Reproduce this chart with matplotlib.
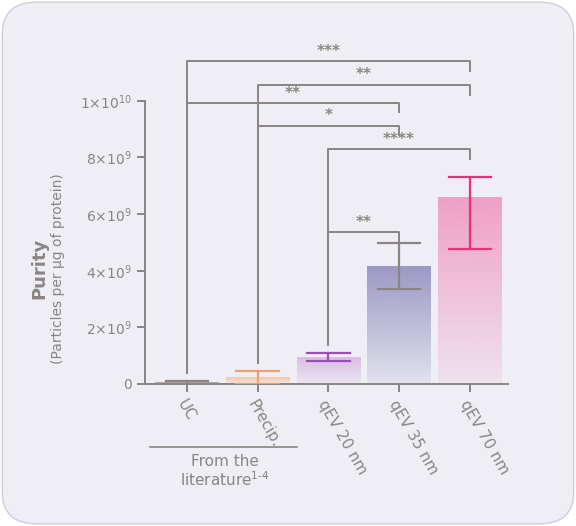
import matplotlib.pyplot as plt
import numpy as np
from matplotlib.patches import FancyBboxPatch
from matplotlib.colors import to_rgb

# data
labels = ["UC", "Precip.", "qEV 20 nm", "qEV 35 nm", "qEV 70 nm"]
means = [0.05e9, 0.22e9, 0.95e9, 4.15e9, 6.6e9]
err_lo = [0.0, 0.0, 0.80e9, 3.35e9, 4.75e9]
err_hi = [0.10e9, 0.45e9, 1.08e9, 4.98e9, 7.30e9]
colors = ["#8a8582", "#f0a070", "#c49ad0", "#2c2f7e", "#e8317a"]
err_colors = ["#8a8582", "#f0a070", "#9b4fb5", "#8a8582", "#e8317a"]
bar_tops = ["#9a9592", "#f6c7a6", "#d9bde3", "#9c98c4", "#f0a0c4"]
# comparisons: (left idx, right idx, height, left leg end, right leg end, stars)
comps = [(0, 4, 11.4e9, 0.39e9, 11.05e9, "***"),
         (1, 4, 10.57e9, 0.74e9, 10.2e9, "**"),
         (0, 3, 9.93e9, 0.39e9, 9.6e9, "**"),
         (1, 3, 9.12e9, 0.74e9, 8.8e9, "*"),
         (2, 4, 8.3e9, 1.38e9, 7.95e9, "****"),
         (2, 3, 5.37e9, 1.38e9, 5.05e9, "**")]
yticks = [0, 2e9, 4e9, 6e9, 8e9, 1e10]
ytick_labels = ["0", r"2×10$^9$", r"4×10$^9$", r"6×10$^9$", r"8×10$^9$", r"1×10$^{10}$"]

grey = "#8a8582"
fig = plt.figure(figsize=(5.76, 5.26), dpi=100)
fig.patch.set_facecolor("white")
box = FancyBboxPatch((0.004, 0.004), 0.992, 0.992, boxstyle="round,pad=0,rounding_size=0.06",
                     transform=fig.transFigure, facecolor="#eeeef4", edgecolor="#cfcfd8", lw=1, zorder=-10)
fig.patches.append(box)
ax = fig.add_axes([0.252, 0.27, 0.63, 0.646])
ax.set_facecolor("none")

w = 0.9
for i, m in enumerate(means):
    r, g, b = to_rgb(bar_tops[i])
    grad = np.zeros((100, 1, 4))
    grad[..., 0], grad[..., 1], grad[..., 2] = r, g, b
    grad[:, 0, 3] = np.linspace(1, 0.15, 100)
    ax.imshow(grad, extent=[i - w / 2, i + w / 2, 0, m], aspect="auto", zorder=1)
    ax.plot([i, i], [err_lo[i], err_hi[i]], color=err_colors[i], lw=1.6, zorder=3)
    for v in (err_lo[i], err_hi[i]):
        ax.plot([i - 0.3, i + 0.3], [v, v], color=err_colors[i], lw=1.6, zorder=3)

for a, b, h, la, lb, s in comps:
    ax.plot([a, a, b, b], [la, h, h, lb], color=grey, lw=1.4, zorder=2)
    ax.text((a + b) / 2, h + 0.08e9, s, ha="center", va="bottom", color=grey, fontsize=11, fontweight="bold")

ax.set_xlim(-0.59, 4.54)
ax.set_ylim(0, 12e9)
for sp in ("top", "right"):
    ax.spines[sp].set_visible(False)
ax.spines["left"].set_bounds(0, 1e10)
for sp in ("left", "bottom"):
    ax.spines[sp].set_color(grey)
    ax.spines[sp].set_linewidth(1.4)
ax.set_yticks(yticks)
ax.set_yticklabels(ytick_labels, color=grey, fontsize=10)
ax.set_xticks(range(len(labels)))
ax.set_xticklabels(labels, rotation=-60, ha="left", va="top", rotation_mode="anchor", fontsize=11)
for t, c in zip(ax.get_xticklabels(), colors):
    t.set_color(c)
ax.tick_params(colors=grey, width=1.4, length=6)

fig.text(0.068, 0.49, "Purity", rotation=90, ha="center", va="center", color=grey, fontsize=13, fontweight="bold")
fig.text(0.1, 0.49, "(Particles per µg of protein)", rotation=90, ha="center", va="center", color=grey, fontsize=10)
fig.add_artist(plt.Line2D([0.26, 0.516], [0.15, 0.15], color=grey, lw=1.2, transform=fig.transFigure))
fig.text(0.39, 0.123, "From the", ha="center", va="center", color=grey, fontsize=11)
fig.text(0.39, 0.088, r"literature$^{1\text{-}4}$", ha="center", va="center", color=grey, fontsize=11)

fig.savefig("out.png", dpi=100)
